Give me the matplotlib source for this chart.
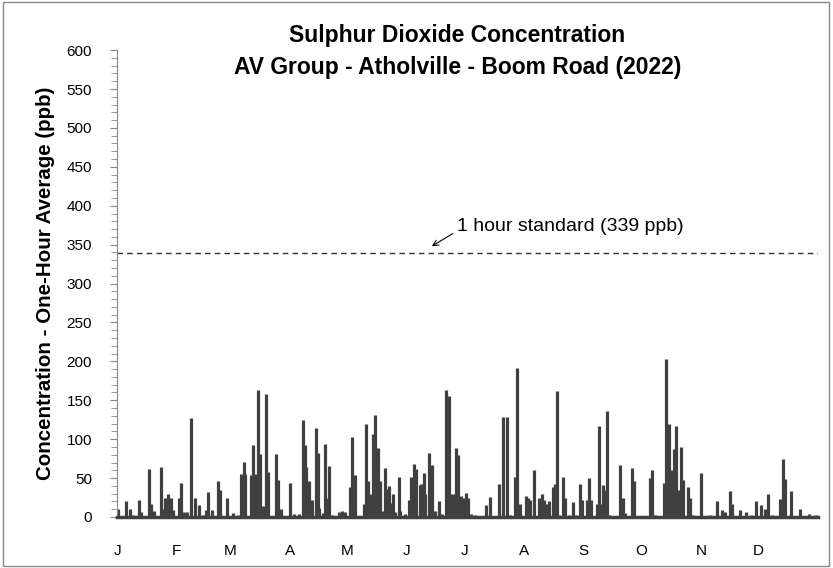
import matplotlib.pyplot as plt
from matplotlib.patches import Rectangle
from matplotlib.ticker import MultipleLocator

# hourly SO2 peaks: day of year (2022) and ppb
peak_day = [0.5, 4.7, 6.9, 8.3, 11.6, 12.5, 16.8, 17.5, 19.3, 22.8, 23.4, 24.8, 26.7, 28.0,
            29.2, 32.4, 33.5, 34.7, 36.4, 38.7, 40.8, 42.9, 44.6, 46.3, 47.5, 49.5, 52.6,
            53.6, 57.4, 60.2, 63.0, 64.6, 66.3, 66.8, 69.8, 70.7, 72.0, 73.4, 74.5, 75.9,
            77.7, 78.8, 82.6, 83.7, 85.4, 90.2, 92.3, 94.9, 96.9, 97.7, 98.4, 99.8, 101.5,
            103.6, 104.5, 105.3, 107.1, 108.5, 109.3, 110.5, 112.0, 115.4, 117.2, 118.9,
            121.5, 122.6, 123.8, 128.8, 129.7, 130.7, 132.4, 133.3, 134.5, 135.9, 136.9,
            138.3, 139.7, 140.4, 141.6, 142.7, 143.9, 144.9, 146.7, 147.5, 150.1, 152.0,
            153.2, 154.8, 155.7, 157.6, 158.5, 159.7, 160.5, 162.6, 164.0, 165.4, 167.5,
            169.2, 171.5, 172.7, 173.9, 175.3, 176.7, 177.7, 179.3, 180.5, 181.6, 182.6,
            184.5, 186.3, 192.1, 194.4, 198.7, 201.1, 203.2, 204.8, 207.4, 208.4, 209.7,
            213.1, 214.0, 215.2, 217.3, 219.6, 221.1, 222.2, 223.4, 224.8, 227.0, 228.2,
            229.3, 230.3, 232.2, 233.3, 235.2, 237.3, 239.2, 241.2, 242.1, 244.9, 245.6,
            246.8, 250.1, 251.1, 252.2, 253.1, 254.0, 255.1, 256.3, 262.1, 263.3, 264.7,
            268.0, 269.2, 277.7, 278.4, 280.3, 284.7, 285.9, 287.2, 289.1, 290.0, 291.2,
            292.5, 293.5, 294.7, 297.2, 298.2, 299.9, 304.1, 308.9, 312.6, 315.0, 316.4,
            319.4, 320.2, 324.4, 327.7, 330.3, 332.9, 335.5, 337.2, 339.0, 341.1, 345.4,
            346.8, 348.0, 351.1, 355.8, 360.2, 364.0]
peak_ppb = [10, 20, 10, 3, 22, 7, 62, 17, 8, 64, 10, 25, 29, 24,
            9, 24, 44, 7, 6, 127, 24, 15, 3, 9, 32, 9, 46,
            35, 24, 5, 3, 55, 71, 55, 54, 93, 55, 163, 81, 14,
            158, 58, 81, 47, 10, 44, 4, 4, 125, 92, 64, 46, 22,
            115, 82, 12, 5, 94, 25, 65, 3, 6, 8, 7,
            39, 103, 54, 17, 119, 46, 30, 107, 131, 89, 46,
            8, 63, 36, 40, 18, 29, 6, 52, 8, 4, 22,
            52, 68, 62, 41, 43, 56, 29, 82, 67, 8, 20,
            4, 163, 155, 29, 29, 89, 80, 27, 25, 31, 24,
            4, 2, 15, 26, 43, 129, 129, 3, 51, 191, 17,
            27, 25, 22, 61, 24, 30, 22, 17, 20, 38, 43,
            162, 3, 52, 25, 3, 19, 3, 42, 22, 22, 50,
            22, 17, 117, 17, 41, 35, 136, 3, 67, 25, 5,
            63, 46, 50, 60, 2, 44, 203, 120, 61, 88, 117,
            35, 90, 47, 39, 25, 3, 57, 2, 21, 9, 6,
            34, 17, 9, 6, 3, 21, 16, 10, 29, 3, 23,
            75, 49, 34, 10, 4, 3]

month_start = [0, 31, 59, 90, 120, 151, 181, 212, 243, 273, 304, 334]
month_labels = ["J", "F", "M", "A", "M", "J", "J", "A", "S", "O", "N", "D"]
standard_ppb = 339

plt.rcParams["font.family"] = ["Liberation Sans", "DejaVu Sans"]

fig = plt.figure(figsize=(8.33, 5.68), dpi=100)
ax = fig.add_axes([0.1405, 0.0898, 0.8415, 0.822])

ax.vlines(peak_day, 0, peak_ppb, color="#404040", lw=2.3)
ax.axhline(standard_ppb, color="#303030", lw=1, ls=(0, (4, 3)))

ax.set_xlim(0, 365)
ax.set_ylim(0, 600)
ax.yaxis.set_major_locator(MultipleLocator(50))
ax.yaxis.set_minor_locator(MultipleLocator(10))
ax.set_xticks(month_start)
ax.set_xticklabels(month_labels)
ax.tick_params(axis="x", length=0, pad=19.5, labelsize=11)
ax.tick_params(axis="y", which="major", length=5, color="#888888", labelsize=11, pad=13)
ax.tick_params(axis="y", which="minor", length=4, color="#888888")

for s in ["top", "right"]:
    ax.spines[s].set_visible(False)
ax.spines["left"].set_color("#888888")
ax.spines["bottom"].set_color("#404040")
ax.spines["bottom"].set_linewidth(2.5)

ax.set_ylabel("Concentration - One-Hour Average (ppb)", fontsize=14.8, fontweight="bold",
              labelpad=8)

# label and arrow for the standard line
ax.text(0.485, 0.622, "1 hour standard (339 ppb)", transform=ax.transAxes,
        fontsize=14, va="center", ha="left")
ax.annotate("", xy=(0.449, 0.580), xycoords="axes fraction",
            xytext=(0.479, 0.607), textcoords="axes fraction",
            arrowprops=dict(arrowstyle="->", color="black", lw=0.8,
                            shrinkA=0, shrinkB=0))

fig.text(0.549, 0.938, "Sulphur Dioxide Concentration", ha="center", va="center",
         fontsize=16.5, fontweight="bold")
fig.text(0.549, 0.882, "AV Group - Atholville - Boom Road (2022)", ha="center",
         va="center", fontsize=16.5, fontweight="bold")

fig.patches.append(Rectangle((0.004, 0.004), 0.991, 0.993, transform=fig.transFigure,
                             fill=False, edgecolor="#888888", lw=1))

fig.savefig("out.png", dpi=100)
